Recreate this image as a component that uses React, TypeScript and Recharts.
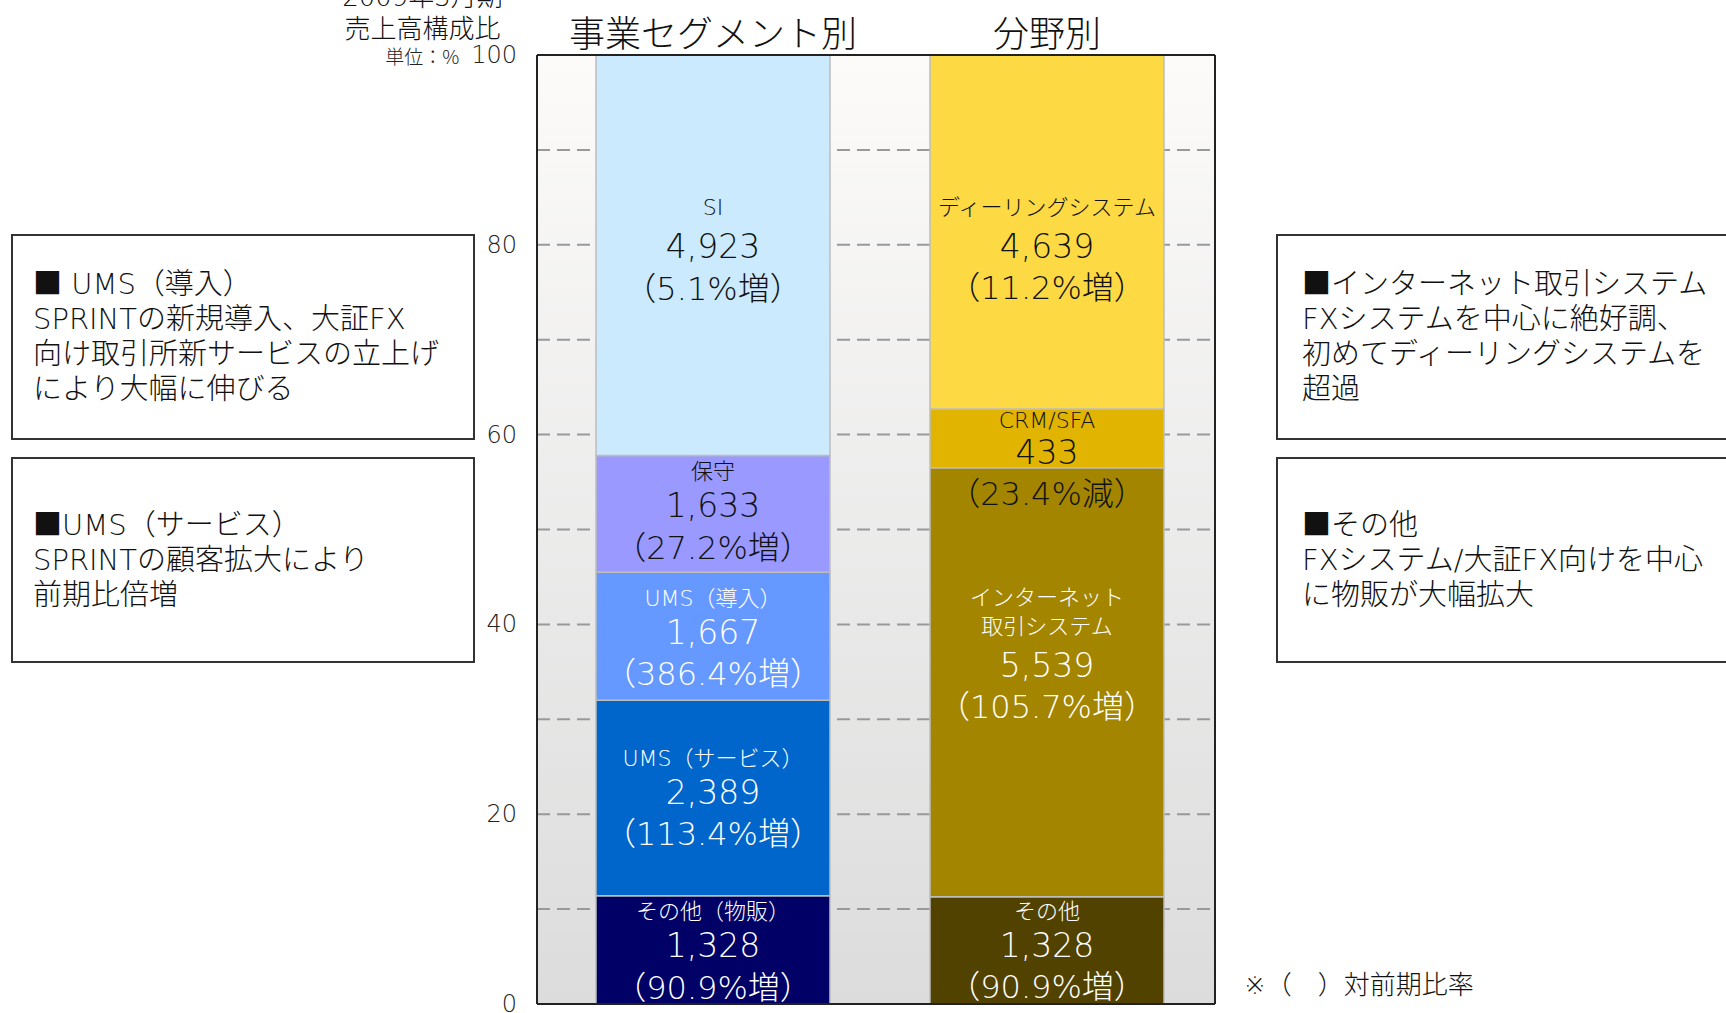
import { BarChart, Bar, XAxis, YAxis, CartesianGrid, Cell, LabelList } from "recharts";

const categories = ["事業セグメント別", "分野別"];

// stacked from the bottom up
const segmentNames = [
  ["その他（物販）", "UMS（サービス）", "UMS（導入）", "保守", "SI"],
  ["その他", "インターネット\n取引システム", "CRM/SFA", "ディーリングシステム"],
];
// share of sales, %
const shares = [
  [11.4, 20.6, 13.5, 12.3, 42.2],
  [11.3, 45.2, 6.2, 37.3],
];
const sales = [
  [1328, 2389, 1667, 1633, 4923],
  [1328, 5539, 433, 4639],
];
const changes = [
  ["90.9%増", "113.4%増", "386.4%増", "27.2%増", "5.1%増"],
  ["90.9%増", "105.7%増", "23.4%減", "11.2%増"],
];

const yTicks = [0, 20, 40, 60, 80, 100];
const gridValues = [10, 20, 30, 40, 50, 60, 70, 80, 90];

const fills = [
  ["#000066", "#0066cc", "#6699ff", "#9999ff", "#cceafd"],
  ["#524200", "#a38500", "#e0b400", "#fdd944"],
];
const textColors = [
  ["#fff", "#fff", "#fff", "#111", "#111"],
  ["#fff", "#fff", "#111", "#111"],
];
// small vertical nudges for the label blocks
const labelNudge = [
  [0, -2, 0, -4, -7],
  [-1, -30, 19, 16],
];

const FONT = "'DejaVu Sans', 'Noto Sans CJK JP', sans-serif";
const CJK = "'Noto Sans CJK JP', 'Noto Sans', sans-serif";
const W = 200;
const levels = [0, 1, 2, 3, 4];

const data = categories.map((name, i) => {
  const row: Record<string, string | number> = { name };
  shares[i].forEach((v, j) => {
    row["s" + j] = v;
  });
  return row;
});

const segmentLabel = (level: number) => (props: any) => {
  const { x, y, width, height, index } = props;
  const name = segmentNames[index]?.[level];
  if (!name || height == null) return null;
  const lines = name.split("\n");
  const color = textColors[index][level];
  const cx = x + width / 2;
  const nameGap = 29;
  const numGap = height < 80 ? 32 : height > 300 ? 39 : 34;
  const chgGap = 42;
  const total = (lines.length - 1) * nameGap + numGap + chgGap;
  const top = y + height / 2 - total / 2 + labelNudge[index][level];
  const numY = top + (lines.length - 1) * nameGap + numGap;
  return (
    <g fontFamily={FONT} fontWeight={W} fill={color} textAnchor="middle">
      {lines.map((t: string, k: number) => (
        <text key={k} x={cx} y={top + k * nameGap} fontSize={22} dominantBaseline="central">
          {t}
        </text>
      ))}
      <text x={cx} y={numY} fontSize={33} dominantBaseline="central">
        {sales[index][level].toLocaleString("en-US")}
      </text>
      <text x={cx} y={numY + chgGap} fontSize={32} dominantBaseline="central">
        {"（" + changes[index][level] + "）"}
      </text>
    </g>
  );
};

const YTick = (props: any) => {
  const { x, y, payload } = props;
  return (
    <text x={x} y={y} textAnchor="end" dominantBaseline="central" fontFamily={FONT} fontWeight={W} fontSize={24} fill="#222">
      {payload.value === 100 && (
        <tspan fontSize={19} fontFamily={CJK}>
          単位：%
        </tspan>
      )}
      <tspan dx={payload.value === 100 ? 12 : 0}>{payload.value}</tspan>
    </text>
  );
};

const TitleTick = (props: any) => {
  const { x, y, payload } = props;
  return (
    <text x={x} y={y - 24} textAnchor="middle" dominantBaseline="central" fontFamily={CJK} fontWeight={300} fontSize={36} fill="#111">
      {payload.value}
    </text>
  );
};

const boxStyle: React.CSSProperties = {
  position: "absolute",
  boxSizing: "border-box",
  border: "2px solid #333",
  background: "#fff",
  display: "flex",
  flexDirection: "column",
  justifyContent: "center",
  fontFamily: FONT,
  fontWeight: W,
  fontSize: 29,
  lineHeight: "35px",
  color: "#111",
  whiteSpace: "nowrap",
};

const notesLeft = [
  ["■ UMS（導入）", "SPRINTの新規導入、大証FX", "向け取引所新サービスの立上げ", "により大幅に伸びる"],
  ["■UMS（サービス）", "SPRINTの顧客拡大により", "前期比倍増"],
];
const notesRight = [
  ["■インターネット取引システム", "FXシステムを中心に絶好調、", "初めてディーリングシステムを", "超過"],
  ["■その他", "FXシステム/大証FX向けを中心", "に物販が大幅拡大"],
];
const header = ["2009年3月期", "売上高構成比"];

export default function App() {
  return (
    <div style={{ position: "absolute", left: 0, top: 0, width: 1726, height: 1013, overflow: "hidden", background: "#fff" }}>
      <BarChart
        width={1726}
        height={1013}
        data={data}
        margin={{ top: 5, right: 510, bottom: 8, left: 457 }}
        barCategoryGap={0}
      >
        <defs>
          <linearGradient id="plotBg" x1="0" y1="0" x2="0" y2="1">
            <stop offset="0%" stopColor="#fcfbfa" />
            <stop offset="100%" stopColor="#dcdcdc" />
          </linearGradient>
        </defs>
        <CartesianGrid
          vertical={false}
          horizontalValues={gridValues}
          fill="url(#plotBg)"
          stroke="#999"
          strokeWidth={2}
          strokeDasharray="13 7"
        />
        <XAxis
          dataKey="name"
          orientation="top"
          height={50}
          padding={{ left: 9, right: 1 }}
          tickLine={false}
          tickSize={0}
          tickMargin={0}
          axisLine={{ stroke: "#222", strokeWidth: 2 }}
          tick={<TitleTick />}
        />
        <XAxis
          xAxisId="bottom"
          dataKey="name"
          orientation="bottom"
          height={1}
          tick={false}
          tickLine={false}
          axisLine={{ stroke: "#222", strokeWidth: 2 }}
        />
        <YAxis
          domain={[0, 100]}
          ticks={yTicks}
          width={80}
          tickLine={false}
          tickSize={0}
          tickMargin={20}
          axisLine={{ stroke: "#222", strokeWidth: 2 }}
          tick={<YTick />}
          interval={0}
        />
        <YAxis
          yAxisId="right"
          orientation="right"
          domain={[0, 100]}
          width={1}
          tick={false}
          tickLine={false}
          axisLine={{ stroke: "#222", strokeWidth: 2 }}
        />
        {levels.map((level) => (
          <Bar
            key={level}
            dataKey={"s" + level}
            stackId="a"
            barSize={234}
            stroke="#bdbdbd"
            strokeWidth={1.5}
            isAnimationActive={false}
          >
            {categories.map((c, i) => (
              <Cell key={c} fill={fills[i][level] ?? "none"} />
            ))}
            <LabelList content={segmentLabel(level)} />
          </Bar>
        ))}
      </BarChart>

      <div style={{ position: "absolute", left: 325, top: -19, width: 195, textAlign: "center", fontFamily: FONT, fontWeight: W, fontSize: 26, lineHeight: "32px", color: "#111" }}>
        {header.map((h) => (
          <div key={h}>{h}</div>
        ))}
      </div>

      {notesLeft.map((lines, i) => (
        <div key={i} style={{ ...boxStyle, left: 11, top: i === 0 ? 234 : 457, width: 464, height: 206, paddingLeft: 20 }}>
          {lines.map((l) => (
            <div key={l}>{l}</div>
          ))}
        </div>
      ))}
      {notesRight.map((lines, i) => (
        <div key={i} style={{ ...boxStyle, left: 1276, top: i === 0 ? 234 : 457, width: 480, height: 206, paddingLeft: 24 }}>
          {lines.map((l) => (
            <div key={l}>{l}</div>
          ))}
        </div>
      ))}

      <div style={{ position: "absolute", left: 1244, top: 968, fontFamily: FONT, fontWeight: W, fontSize: 26, lineHeight: "34px", color: "#111", whiteSpace: "pre" }}>
        ※（　）対前期比率
      </div>
    </div>
  );
}
